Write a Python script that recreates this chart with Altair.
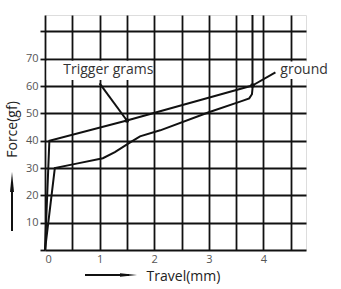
import altair as alt
import pandas as pd

# ---- data ----
upper_x = [0, 0.08, 1.5, 3.8]
upper_y = [0, 40, 47.4, 60.2]
lower_x = [0, 0.18, 0.6, 1.06, 1.28, 1.56, 1.74, 2.11, 3.0, 3.6, 3.74, 3.79, 3.8, 3.8]
lower_y = [0, 30, 31.7, 33.6, 35.8, 39.4, 41.6, 43.8, 50.4, 54.5, 55.5, 57, 59, 86]
trigger_ptr_x = [1.0, 1.5]
trigger_ptr_y = [61, 47.4]
ground_ptr_x = [3.8, 4.22]
ground_ptr_y = [60.2, 65]
dot_x = [1.5, 3.8]
dot_y = [47.4, 60.2]
label_text = ["Trigger grams", "ground"]
label_x = [1.16, 4.31]
label_y = [65.7, 66.0]
box_x = [0.03, 4.27]
box_x2 = [1.95, 5.4]
box_y = [62.2, 62.6]
box_y2 = [69.3, 69.0]
x_ticks = [0, 0.5, 1, 1.5, 2, 2.5, 3, 3.5, 4, 4.5]
x_labels = [0, 1, 2, 3, 4]
y_ticks = [0, 10, 20, 30, 40, 50, 60, 70, 80]
y_labels = [10, 20, 30, 40, 50, 60, 70]
x_domain = [0, 4.78]
y_domain = [0, 86]

FONT = "Open Sans"
INK = "#111111"

rows = []
for name, xs_, ys_ in [("upper", upper_x, upper_y), ("lower", lower_x, lower_y),
                       ("tptr", trigger_ptr_x, trigger_ptr_y), ("gptr", ground_ptr_x, ground_ptr_y)]:
    for i, (a, b) in enumerate(zip(xs_, ys_)):
        rows.append({"series": name, "x": a, "y": b, "i": i})
lines_df = pd.DataFrame(rows)
dots_df = pd.DataFrame({"x": dot_x, "y": dot_y})
labels_df = pd.DataFrame({"t": label_text, "x": label_x, "y": label_y,
                          "bx": box_x, "bx2": box_x2, "by": box_y, "by2": box_y2})
one = pd.DataFrame({"a": [0]})

xs = alt.Scale(domain=x_domain, nice=False, zero=False)
ys = alt.Scale(domain=y_domain, nice=False, zero=False)

xlab_expr = "indexof([" + ",".join(str(v) for v in x_labels) + "], datum.value) >= 0 ? format(datum.value, 'd') : ''"
ylab_expr = "indexof([" + ",".join(str(v) for v in y_labels) + "], datum.value) >= 0 ? format(datum.value, 'd') : ''"

xaxis = alt.Axis(values=x_ticks, grid=True, gridColor=INK, gridWidth=1.8, gridOpacity=1,
                 domain=False, ticks=False, labelPadding=3, labelFontSize=11,
                 labelColor="#555555", labelFont=FONT, labelOverlap=False,
                 labelExpr=xlab_expr,
                 title="Travel(mm)", titleX=138, titleY=26, titleAlign="center",
                 titleBaseline="middle", titleFontSize=14, titleFontWeight="normal",
                 titleColor="#222222", titleFont=FONT)
yaxis = alt.Axis(values=y_ticks, grid=True, gridColor=INK, gridWidth=1.8, gridOpacity=1,
                 domain=False, ticks=True, tickSize=5, tickColor=INK, tickWidth=1.8,
                 labelPadding=2, labelFontSize=11, labelColor="#555555", labelFont=FONT,
                 labelOverlap=False, labelExpr=ylab_expr,
                 title="Force(gf)", titleX=-33, titleY=114, titleAngle=270,
                 titleAlign="center", titleBaseline="middle", titleFontSize=14,
                 titleFontWeight="normal", titleColor="#222222", titleFont=FONT)

X = lambda f: alt.X(f, scale=xs, axis=xaxis)
Y = lambda f: alt.Y(f, scale=ys, axis=yaxis)

base_lines = alt.Chart(lines_df).mark_line(color=INK, strokeWidth=2).encode(
    x=X("x:Q"), y=Y("y:Q"), detail="series:N", order="i:Q",
)

boxes = alt.Chart(labels_df).mark_rect(color="white", clip=False).encode(
    x=X("bx:Q"), x2="bx2:Q", y=Y("by:Q"), y2="by2:Q",
)

texts_c = alt.Chart(labels_df).transform_filter("datum.t == 'Trigger grams'").mark_text(
    align="center", baseline="middle", font=FONT, fontSize=14, color="#333333").encode(
    x=X("x:Q"), y=Y("y:Q"), text="t:N")
texts_l = alt.Chart(labels_df).transform_filter("datum.t == 'ground'").mark_text(
    align="left", baseline="middle", font=FONT, fontSize=14, color="#333333").encode(
    x=X("x:Q"), y=Y("y:Q"), text="t:N")

dots = alt.Chart(dots_df).mark_point(filled=True, color=INK, size=22, opacity=1).encode(
    x=X("x:Q"), y=Y("y:Q"),
)

# decorative arrows beside the axis titles (pixel offsets from the plot's top-left)
xarrow_rule = alt.Chart(one).mark_rule(color=INK, strokeWidth=2).encode(
    x=alt.value(40), x2=alt.value(84), y=alt.value(260))
xarrow_head = alt.Chart(one).mark_point(shape="M-1,-0.2L1,0L-1,0.2Z", filled=True,
                                        color=INK, size=289, opacity=1).encode(
    x=alt.value(83.5), y=alt.value(260))
yarrow_rule = alt.Chart(one).mark_rule(color=INK, strokeWidth=2).encode(
    x=alt.value(-33), y=alt.value(168), y2=alt.value(216))
yarrow_head = alt.Chart(one).mark_point(shape="M-0.2,1L0,-1L0.2,1Z", filled=True,
                                        color=INK, size=400, opacity=1).encode(
    x=alt.value(-33), y=alt.value(167))

chart = alt.layer(base_lines, boxes, texts_c, texts_l, dots,
                  xarrow_rule, xarrow_head, yarrow_rule, yarrow_head).properties(
    width=261, height=235,
    autosize=alt.AutoSizeParams(type="none"),
    padding={"left": 45, "top": 15, "right": 35, "bottom": 39},
).configure_view(stroke=None).configure(background="white")

chart.save("out.html", embed_options={"renderer": "svg", "actions": False})
